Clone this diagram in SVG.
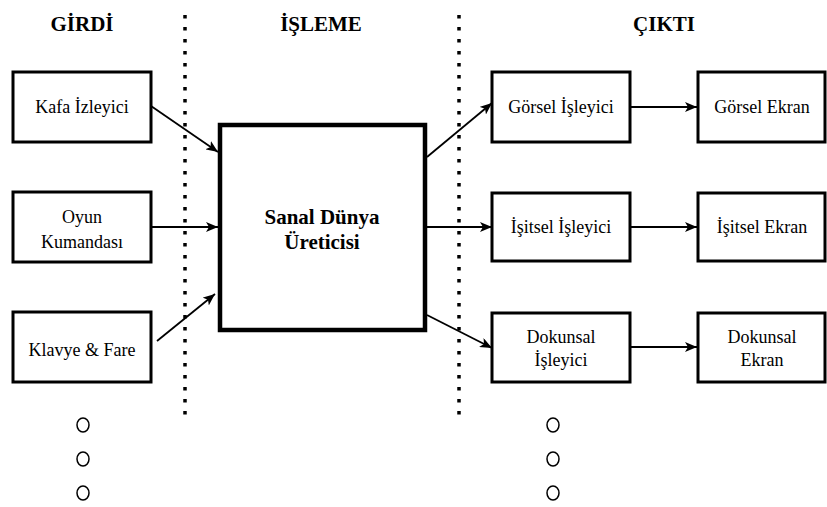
<svg xmlns="http://www.w3.org/2000/svg" width="827" height="507" viewBox="0 0 827 507">
<defs>
<marker id="arr" viewBox="0 0 12 10" refX="12" refY="5" markerWidth="12" markerHeight="10" markerUnits="userSpaceOnUse" orient="auto">
<path d="M0,0 L12,5 L0,10 L3,5 z" fill="#000"/>
</marker>
</defs>
<rect width="827" height="507" fill="#fff"/>
<g id="headings" fill="#000" text-anchor="middle">
<text font-family="Liberation Serif" font-size="21" font-weight="bold" x="82" y="31">GİRDİ</text>
<text font-family="Liberation Serif" font-size="21" font-weight="bold" x="321" y="31">İŞLEME</text>
<text font-family="Liberation Serif" font-size="21" font-weight="bold" x="664" y="31">ÇIKTI</text>
</g>
<g id="dividers" stroke="#000" stroke-width="3.5" stroke-dasharray="3.5 8.5">
<line x1="185" y1="15" x2="185" y2="418"/>
<line x1="459" y1="15" x2="459" y2="418"/>
</g>
<g id="connectors" fill="none" stroke="#000" stroke-width="1.8">
<line x1="151" y1="106" x2="218" y2="152" marker-end="url(#arr)"/>
<line x1="151" y1="227" x2="218" y2="227" marker-end="url(#arr)"/>
<line x1="157" y1="341" x2="215" y2="294" marker-end="url(#arr)"/>
<line x1="427" y1="157" x2="492" y2="103" marker-end="url(#arr)"/>
<line x1="427" y1="227" x2="492" y2="227" marker-end="url(#arr)"/>
<line x1="427" y1="315" x2="492" y2="348" marker-end="url(#arr)"/>
<line x1="631" y1="107" x2="697" y2="107" marker-end="url(#arr)"/>
<line x1="631" y1="227" x2="697" y2="227" marker-end="url(#arr)"/>
<line x1="631" y1="347" x2="697" y2="347" marker-end="url(#arr)"/>
</g>
<g id="kafa" text-anchor="middle">
<rect x="13" y="72" width="138" height="70" fill="#fff" stroke="#000" stroke-width="3"/>
<text font-family="Liberation Serif" font-size="18" x="82" y="113">Kafa İzleyici</text>
</g>
<g id="oyun" text-anchor="middle">
<rect x="13" y="192" width="138" height="70" fill="#fff" stroke="#000" stroke-width="3"/>
<text font-family="Liberation Serif" font-size="18" x="82" y="223">Oyun</text>
<text font-family="Liberation Serif" font-size="18" x="82" y="248">Kumandası</text>
</g>
<g id="klavye" text-anchor="middle">
<rect x="13" y="312" width="138" height="70" fill="#fff" stroke="#000" stroke-width="3"/>
<text font-family="Liberation Serif" font-size="18" x="82" y="356">Klavye &amp; Fare</text>
</g>
<g id="sanal" text-anchor="middle">
<rect x="220" y="125" width="205" height="205" fill="#fff" stroke="#000" stroke-width="4.5"/>
<text font-family="Liberation Serif" font-size="21" font-weight="bold" x="322" y="224">Sanal Dünya</text>
<text font-family="Liberation Serif" font-size="21" font-weight="bold" x="322" y="249">Üreticisi</text>
</g>
<g id="gorsel-isleyici" text-anchor="middle">
<rect x="492" y="72" width="138" height="70" fill="#fff" stroke="#000" stroke-width="3"/>
<text font-family="Liberation Serif" font-size="18" x="561" y="113">Görsel İşleyici</text>
</g>
<g id="isitsel-isleyici" text-anchor="middle">
<rect x="492" y="193" width="138" height="68" fill="#fff" stroke="#000" stroke-width="3"/>
<text font-family="Liberation Serif" font-size="18" x="561" y="233">İşitsel İşleyici</text>
</g>
<g id="dokunsal-isleyici" text-anchor="middle">
<rect x="492" y="313" width="138" height="69" fill="#fff" stroke="#000" stroke-width="3"/>
<text font-family="Liberation Serif" font-size="18" x="561" y="343">Dokunsal</text>
<text font-family="Liberation Serif" font-size="18" x="561" y="366">İşleyici</text>
</g>
<g id="gorsel-ekran" text-anchor="middle">
<rect x="698" y="72" width="127" height="70" fill="#fff" stroke="#000" stroke-width="3"/>
<text font-family="Liberation Serif" font-size="18" x="762" y="113">Görsel Ekran</text>
</g>
<g id="isitsel-ekran" text-anchor="middle">
<rect x="698" y="193" width="127" height="68" fill="#fff" stroke="#000" stroke-width="3"/>
<text font-family="Liberation Serif" font-size="18" x="762" y="233">İşitsel Ekran</text>
</g>
<g id="dokunsal-ekran" text-anchor="middle">
<rect x="698" y="313" width="127" height="69" fill="#fff" stroke="#000" stroke-width="3"/>
<text font-family="Liberation Serif" font-size="18" x="762" y="343">Dokunsal</text>
<text font-family="Liberation Serif" font-size="18" x="762" y="366">Ekran</text>
</g>
<g id="ellipsis-left" fill="none" stroke="#000" stroke-width="1.5">
<ellipse cx="83" cy="425" rx="6" ry="7"/>
<ellipse cx="83" cy="459" rx="6" ry="7"/>
<ellipse cx="83" cy="493" rx="6" ry="7"/>
</g>
<g id="ellipsis-right" fill="none" stroke="#000" stroke-width="1.5">
<ellipse cx="553" cy="425" rx="6" ry="7"/>
<ellipse cx="553" cy="459" rx="6" ry="7"/>
<ellipse cx="553" cy="493" rx="6" ry="7"/>
</g>
</svg>
